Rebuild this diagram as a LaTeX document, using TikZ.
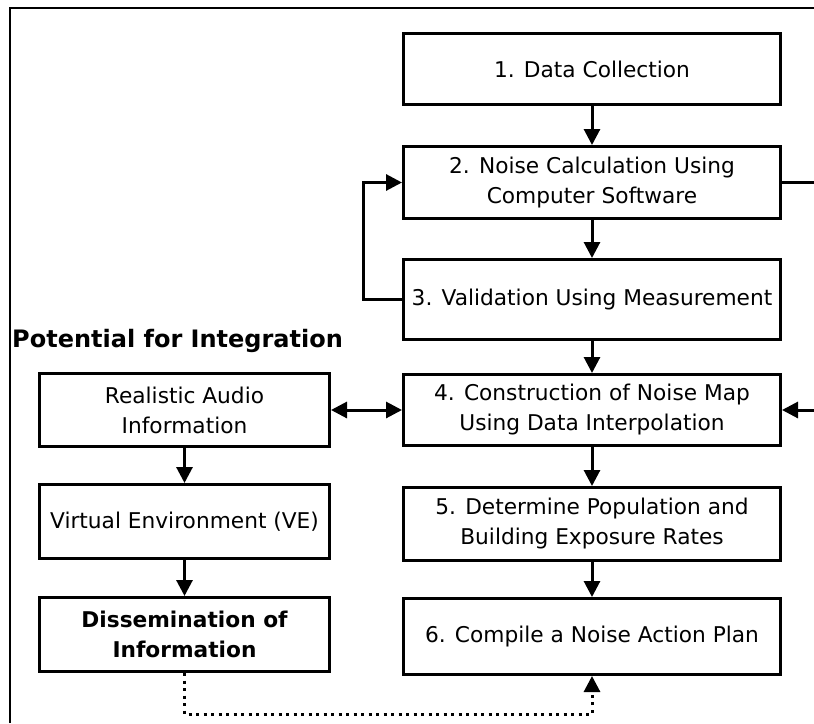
\documentclass[tikz,border=0pt]{standalone}
\usepackage{fontspec}
\setmainfont{DejaVu Sans}
\usetikzlibrary{arrows.meta}

\begin{document}
\begin{tikzpicture}[x=1pt, y=-1pt,
    box/.style={draw, line width=3pt, inner sep=0pt, align=center,
      minimum width=377pt, font=\fontsize{21.7}{30}\selectfont},
    sidebox/.style={box, minimum width=290pt},
    flow/.style={line width=3pt, -{Triangle[length=16pt,width=16pt]}},
    dotflow/.style={flow, dash pattern=on 3pt off 4.5pt}]
          \clip (0,0) rectangle (814,723);
          \fill[white] (0,0) rectangle (814,723);
          \draw[line width=1.5pt] (10,723) -- (10,8) -- (814,8);
          \node [box, minimum height=71pt] (collect) at (592,69) {1. Data Collection};
          \node [box, minimum height=72pt] (calc) at (592,182.5) {2. Noise Calculation Using\\Computer Software};
          \node [box, minimum height=80pt] (valid) at (592,299.5) {3. Validation Using Measurement};
          \node [box, minimum height=71pt] (noisemap) at (592,410) {4. Construction of Noise Map\\Using Data Interpolation};
          \node [box, minimum height=73pt] (expose) at (592,524) {5. Determine Population and\\Building Exposure Rates};
          \node [box, minimum height=76pt] (plan) at (592,636.5) {6. Compile a Noise Action Plan};
          \node [anchor=west, inner sep=0pt, font=\bfseries\fontsize{24}{28}\selectfont] (potential) at (12,341) {Potential for Integration};
          \node [sidebox, minimum height=73pt] (audio) at (184.5,410) {Realistic Audio\\Information};
          \node [sidebox, minimum height=74pt] (virtual) at (184.5,521.5) {Virtual Environment (VE)};
          \node [sidebox, minimum height=74pt, font=\bfseries\fontsize{21.7}{30}\selectfont] (dissem) at (184.5,634.5) {Dissemination of\\Information};
	  \draw[flow] (collect) -- (calc);
\draw[flow] (calc) -- (valid);
\draw[flow] (valid) -- (noisemap);
\draw[flow] (noisemap) -- (expose);
\draw[flow] (expose) -- (plan);
\draw[flow] (valid.west) -- ++(-39,0) |- (calc.west);
\draw[flow] (calc.east) -- ++(45,0) |- (noisemap.east);
\draw[flow, {Triangle[length=16pt,width=16pt]}-{Triangle[length=16pt,width=16pt]}] (audio.east) -- (noisemap.west);
\draw[flow] (audio) -- (virtual);
\draw[flow] (virtual) -- (dissem);
\draw[dotflow] (dissem.south) -- ++(0,41) -| (plan.south);

        \end{tikzpicture}
\end{document}
